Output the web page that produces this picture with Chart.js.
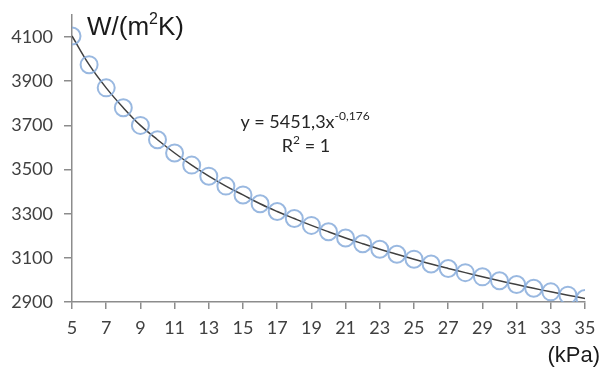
<!DOCTYPE html>
<html>
<head>
<meta charset="utf-8">
<script src="https://cdn.jsdelivr.net/npm/chart.js@4/dist/chart.umd.min.js"></script>
<style>
  html, body { margin: 0; padding: 0; background: #fff; }
  #wrap { width: 603px; height: 367px; }
</style>
</head>
<body>
<div id="wrap"><canvas id="c" width="603" height="367"></canvas></div>
<script>
// pressure (kPa) and heat transfer coefficient W/(m2K)
const pressure = [5, 6, 7, 8, 9, 10, 11, 12, 13, 14, 15, 16, 17, 18, 19, 20,
  21, 22, 23, 24, 25, 26, 27, 28, 29, 30, 31, 32, 33, 34, 35]
const htc = [4105, 3975, 3870, 3780, 3700, 3635, 3575, 3520, 3470, 3425, 3385,
  3345, 3310, 3278, 3247, 3218, 3190, 3164, 3139, 3116, 3094, 3072, 3052, 3033,
  3014, 2996, 2979, 2962, 2946, 2931, 2916]
const xTicks = [5, 7, 9, 11, 13, 15, 17, 19, 21, 23, 25, 27, 29, 31, 33, 35]
const yTicks = [2900, 3100, 3300, 3500, 3700, 3900, 4100]

const axisColor = '#8c8c8c', labelColor = '#404040'
const tickFont = { family: 'Lato, "Open Sans"', size: 18 }
const points = pressure.map((x, i) => ({ x: x, y: htc[i] }))

// draws text with a raised part, returns width used
const supText = (ctx, parts, x, y, big, small, family) => {
  let cx = x
  parts.forEach(([txt, up]) => {
    ctx.font = (up ? small : big) + 'px ' + family
    ctx.fillText(txt, cx, up ? y - big * 0.42 : y)
    cx += ctx.measureText(txt).width
  })
  return cx - x
}
const measureParts = (ctx, parts, big, small, family) => parts.reduce((w, [txt, up]) => {
  ctx.font = (up ? small : big) + 'px ' + family
  return w + ctx.measureText(txt).width
}, 0)

const textPlugin = {
  id: 'texts',
  afterDraw: (chart) => {
    const ctx = chart.ctx
    ctx.save()
    ctx.fillStyle = '#1a1a1a'
    ctx.textBaseline = 'alphabetic'
    ctx.textAlign = 'left'
    const arial = '"Liberation Sans", Arial'
    supText(ctx, [['W/(m', false], ['2', true], ['K)', false]], 87, 35, 26, 16, arial)
    ctx.font = '22px ' + arial
    ctx.textAlign = 'right'
    ctx.fillText('(kPa)', 600, 362)
    ctx.textAlign = 'left'
    ctx.fillStyle = '#262626'
    const lato = 'Lato, "Open Sans"'
    const eq = [['y = 5451,3x', false], ['-0,176', true]]
    const r2 = [['R', false], ['2', true], [' = 1', false]]
    let w = measureParts(ctx, eq, 18, 12, lato)
    supText(ctx, eq, 305 - w / 2, 128, 18, 12, lato)
    w = measureParts(ctx, r2, 18, 12, lato)
    supText(ctx, r2, 306 - w / 2, 152, 18, 12, lato)
    ctx.restore()
  }
}

new Chart(document.getElementById('c'), {
  type: 'scatter',
  data: {
    datasets: [{
      label: 'trend',
      data: points,
      showLine: true,
      tension: 0.4,
      borderColor: '#404040',
      borderWidth: 1.5,
      pointRadius: 0,
      order: 2
    }, {
      label: 'htc',
      data: points,
      showLine: false,
      pointRadius: 8.5,
      pointBorderWidth: 2,
      pointBorderColor: 'rgba(135,172,218,0.85)',
      pointBackgroundColor: 'rgba(0,0,0,0)',
      order: 1
    }]
  },
  options: {
    responsive: false,
    animation: false,
    layout: { padding: { top: 15, right: 18, left: 0, bottom: 0 } },
    plugins: { legend: { display: false }, tooltip: { enabled: false } },
    scales: {
      x: {
        type: 'linear',
        min: 5,
        max: 35,
        afterBuildTicks: (scale) => { scale.ticks = xTicks.map(v => ({ value: v })) },
        afterFit: (scale) => {
          scale.height = 65
          scale.paddingLeft = 0
          scale.paddingRight = 0
        },
        border: { color: axisColor, width: 1.5 },
        grid: { display: true, drawOnChartArea: false, drawTicks: true, tickLength: 7, color: axisColor, lineWidth: 1.5 },
        ticks: { color: labelColor, font: tickFont, padding: 8, maxRotation: 0, autoSkip: false,
          callback: (v) => String(v) }
      },
      y: {
        type: 'linear',
        min: 2900,
        max: 4200,
        afterBuildTicks: (scale) => { scale.ticks = yTicks.map(v => ({ value: v })) },
        afterFit: (scale) => {
          scale.width = 72
          scale.paddingTop = 0
          scale.paddingBottom = 0
        },
        border: { color: axisColor, width: 1.5 },
        grid: { display: true, drawOnChartArea: false, drawTicks: true, tickLength: 8, color: axisColor, lineWidth: 1.5 },
        ticks: { color: labelColor, font: tickFont, padding: 11,
          callback: (v) => String(v) }
      }
    }
  },
  plugins: [textPlugin]
})
</script>
</body>
</html>
